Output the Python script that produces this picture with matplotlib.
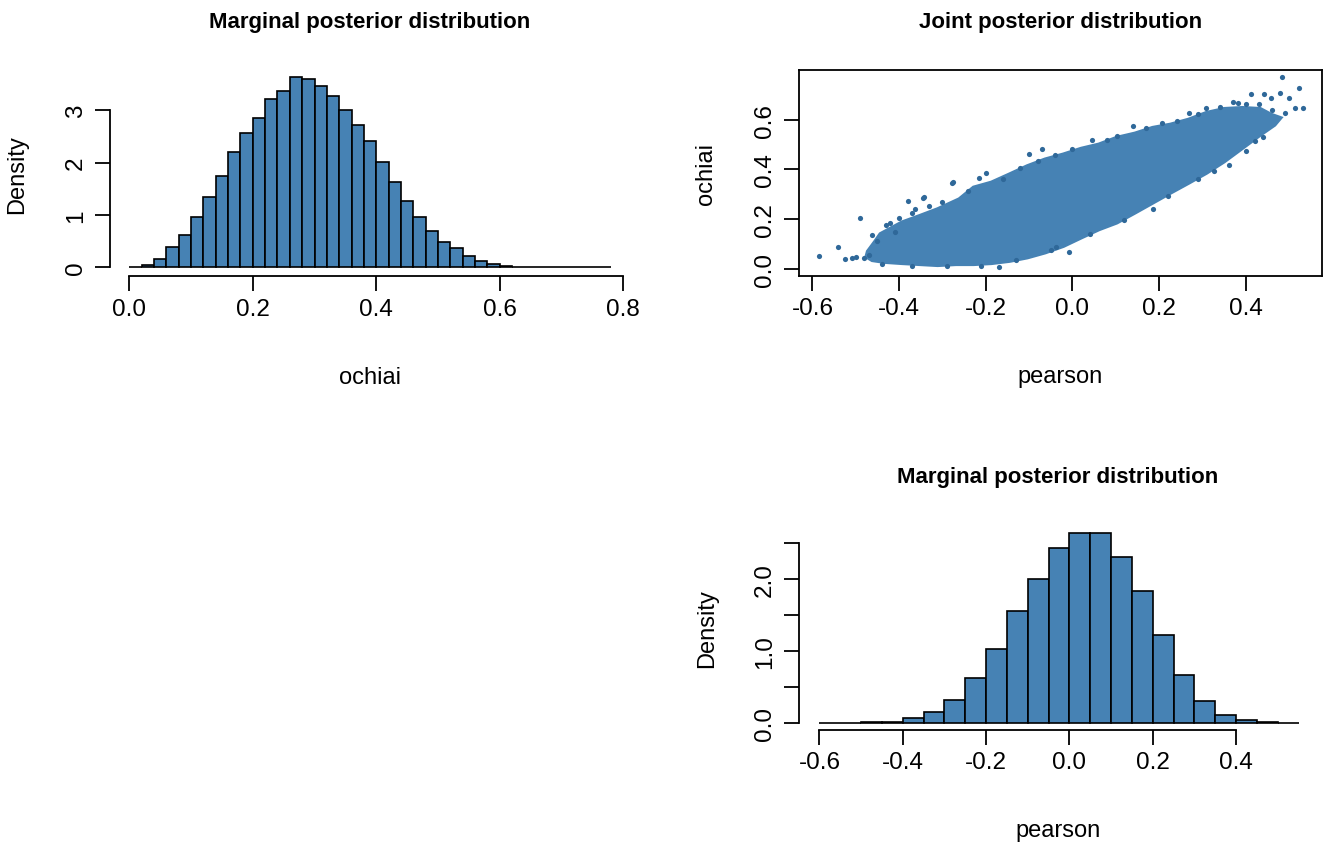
import numpy as np
import matplotlib
matplotlib.use("Agg")
import matplotlib.pyplot as plt
from matplotlib import font_manager

# marginal posterior of ochiai, bin width 0.02
ochiai_edges = np.round(np.arange(0.0, 0.7801, 0.02), 2)
ochiai_density = [0.005, 0.04, 0.15, 0.38, 0.62, 0.97, 1.34, 1.75, 2.21, 2.57,
                  2.85, 3.21, 3.38, 3.63, 3.60, 3.47, 3.28, 3.00, 2.73, 2.41,
                  2.01, 1.63, 1.26, 0.97, 0.69, 0.49, 0.37, 0.22, 0.13, 0.06,
                  0.02, 0.005, 0.0, 0.0, 0.0, 0.0, 0.0, 0.0, 0.0]

# marginal posterior of pearson, bin width 0.05
pearson_edges = np.round(np.arange(-0.6, 0.5501, 0.05), 2)
pearson_density = [0.0, 0.003, 0.01, 0.02, 0.065, 0.157, 0.32, 0.63, 1.03, 1.55,
                   2.00, 2.43, 2.64, 2.64, 2.31, 1.84, 1.22, 0.66, 0.30, 0.11,
                   0.04, 0.02, 0.003]

# joint posterior: outline of the dense point cloud (pearson, ochiai)
cloud_pearson = [-0.472, -0.455, -0.443, -0.393, -0.352, -0.311, -0.261, -0.228, -0.187,
                 -0.145, -0.104, -0.063, -0.021, 0.020, 0.061, 0.102, 0.144,
                 0.185, 0.226, 0.268, 0.309, 0.350, 0.392, 0.433, 0.458, 0.479,
                 0.466, 0.433, 0.392, 0.350, 0.309, 0.268, 0.226, 0.185, 0.144,
                 0.102, 0.061, 0.020, -0.021, -0.063, -0.104, -0.145, -0.187,
                 -0.228, -0.269, -0.311, -0.352, -0.393, -0.435, -0.462, -0.475]
cloud_ochiai = [0.070, 0.110, 0.140, 0.187, 0.213, 0.240, 0.280, 0.327, 0.347,
                0.380, 0.413, 0.440, 0.460, 0.483, 0.500, 0.527, 0.544,
                0.567, 0.580, 0.600, 0.627, 0.643, 0.647, 0.643, 0.620, 0.607,
                0.580, 0.540, 0.487, 0.433, 0.387, 0.347, 0.307, 0.267, 0.227,
                0.187, 0.160, 0.127, 0.093, 0.067, 0.047, 0.033, 0.024,
                0.020, 0.020, 0.016, 0.020, 0.024, 0.029, 0.036, 0.050]

# stray draws outside the dense cloud
stray_pearson = [-0.584, -0.540, -0.490, -0.525, -0.509, -0.463, -0.380, -0.342,
                 -0.275, -0.216, -0.421, -0.409, -0.363, -0.451, -0.482, -0.100,
                 -0.071, 0.140, 0.268, 0.412, 0.441, 0.484, 0.522, 0.532, 0.513,
                 0.478, 0.499, 0.371, 0.326, 0.421, 0.185, -0.009, -0.038, -0.170,
                 -0.278, -0.344, -0.199, 0.045, 0.102, 0.206, 0.309, 0.383, 0.458,
                 # speckles along the cloud edge
                 -0.430, -0.400, -0.370, -0.330, -0.300, -0.240, -0.160, -0.120,
                 -0.080, -0.040, 0.000, 0.080, 0.170, 0.240, 0.290, 0.340, 0.400,
                 0.430, 0.460, 0.490, 0.440, 0.400, 0.360, 0.290, 0.220, 0.120,
                 0.040, -0.050, -0.130, -0.210, -0.290, -0.370, -0.440, -0.470,
                 -0.500]
stray_ochiai = [0.053, 0.090, 0.205, 0.040, 0.043, 0.138, 0.275, 0.288,
                0.348, 0.364, 0.185, 0.147, 0.241, 0.114, 0.043, 0.463,
                0.483, 0.573, 0.627, 0.703, 0.703, 0.771, 0.729, 0.647, 0.647,
                0.707, 0.687, 0.673, 0.393, 0.513, 0.240, 0.067, 0.087, 0.007,
                0.347, 0.287, 0.387, 0.520, 0.533, 0.587, 0.647, 0.667, 0.687,
                0.175, 0.205, 0.225, 0.255, 0.268, 0.315, 0.362, 0.405,
                0.436, 0.458, 0.482, 0.520, 0.566, 0.596, 0.622, 0.652, 0.662,
                0.664, 0.640, 0.626, 0.530, 0.475, 0.420, 0.360, 0.295, 0.195,
                0.140, 0.075, 0.035, 0.013, 0.010, 0.013, 0.022, 0.058,
                0.050]

available = {f.name for f in font_manager.fontManager.ttflist}
narrow = "Liberation Sans Narrow" if "Liberation Sans Narrow" in available else "Liberation Sans"
plt.rcParams["font.family"] = [narrow, "DejaVu Sans"]

W, H = 1328, 845
fig = plt.figure(figsize=(W / 100, H / 100), dpi=100)
fill = "steelblue"


def px_axes(left, right, top, bottom):
    return fig.add_axes([left / W, 1 - bottom / H, (right - left) / W, (bottom - top) / H])


def r_style(ax, box=False):
    for side in ["top", "right"]:
        ax.spines[side].set_visible(box)
    for sp in ax.spines.values():
        sp.set_linewidth(1.3)
    ax.tick_params(direction="out", length=10.5, width=1.3, labelsize=17.5, pad=5)
    ax.tick_params(axis="y", labelrotation=90, pad=6)
    for lab in ax.get_yticklabels():
        lab.set_va("center")


def titles(ax, title, xlab, ylab):
    ax.set_title(title, fontsize=16, fontweight="bold", pad=31,
                 family=["Liberation Sans", "DejaVu Sans"])
    ax.set_xlabel(xlab, fontsize=17)
    ax.xaxis.set_label_coords(0.5, -0.49)
    ax.xaxis.label.set_va("center")
    ax.set_ylabel(ylab, fontsize=17)
    ax.yaxis.set_label_coords(-0.178, 0.5)
    ax.yaxis.label.set_va("center")


# top left: ochiai histogram
ax1 = px_axes(110, 630, 71, 277.3)
ax1.bar(ochiai_edges[:-1], ochiai_density, width=np.diff(ochiai_edges), align="edge",
        color=fill, edgecolor="black", linewidth=1.2)
ax1.set_xlim(-0.0313, 0.811)
ax1.set_ylim(-0.172, 3.772)
ax1.set_xticks([0.0, 0.2, 0.4, 0.6, 0.8])
ax1.set_xticklabels(["0.0", "0.2", "0.4", "0.6", "0.8"])
ax1.set_yticks([0, 1, 2, 3])
ax1.set_yticklabels(["0", "1", "2", "3"])
ax1.spines["left"].set_bounds(0, 3)
ax1.spines["bottom"].set_bounds(0, 0.8)
r_style(ax1)
titles(ax1, "Marginal posterior distribution", "ochiai", "Density")

# top right: joint scatter
ax2 = px_axes(799, 1321.7, 71, 276.7)
ax2.fill(cloud_pearson, cloud_ochiai, color=fill, linewidth=3)
ax2.scatter(stray_pearson, stray_ochiai, s=14, color="#2f6899", linewidths=0)
ax2.set_xlim(-0.631, 0.575)
ax2.set_ylim(-0.027, 0.800)
ax2.set_xticks([-0.6, -0.4, -0.2, 0.0, 0.2, 0.4])
ax2.set_xticklabels(["-0.6", "-0.4", "-0.2", "0.0", "0.2", "0.4"])
ax2.set_yticks([0.0, 0.2, 0.4, 0.6])
ax2.set_yticklabels(["0.0", "0.2", "0.4", "0.6"])
r_style(ax2, box=True)
titles(ax2, "Joint posterior distribution", "pearson", "ochiai")

# bottom right: pearson histogram
ax3 = px_axes(799, 1317, 526.4, 730.7)
ax3.bar(pearson_edges[:-1], pearson_density, width=np.diff(pearson_edges), align="edge",
        color=fill, edgecolor="black", linewidth=1.2)
ax3.set_xlim(-0.649, 0.594)
ax3.set_ylim(-0.093, 2.745)
ax3.set_xticks([-0.6, -0.4, -0.2, 0.0, 0.2, 0.4])
ax3.set_xticklabels(["-0.6", "-0.4", "-0.2", "0.0", "0.2", "0.4"])
ax3.set_yticks([0.0, 0.5, 1.0, 1.5, 2.0, 2.5])
ax3.set_yticklabels(["0.0", "", "1.0", "", "2.0", ""])
ax3.spines["left"].set_bounds(0, 2.5)
ax3.spines["bottom"].set_bounds(-0.6, 0.4)
r_style(ax3)
titles(ax3, "Marginal posterior distribution", "pearson", "Density")

fig.savefig("out.png", dpi=100)
